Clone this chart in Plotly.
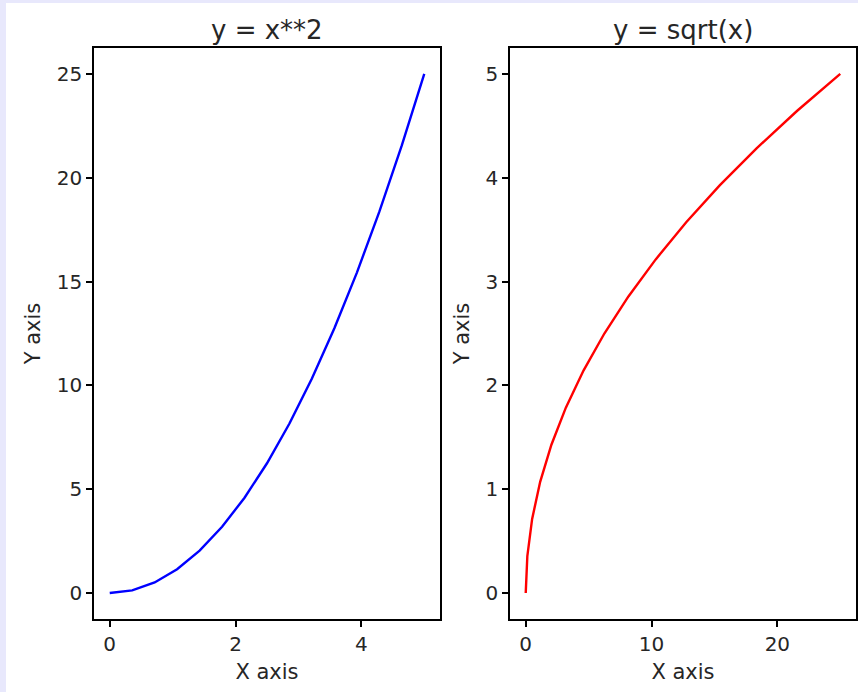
import plotly.graph_objects as go

# Sample points of the two curves
x_vals = [0.0, 0.357, 0.714, 1.071, 1.429, 1.786, 2.143, 2.5,
          2.857, 3.214, 3.571, 3.929, 4.286, 4.643, 5.0]
x_squared = [0.0, 0.128, 0.510, 1.148, 2.041, 3.189, 4.592, 6.25,
             8.163, 10.332, 12.755, 15.434, 18.367, 21.556, 25.0]

# Right panel: sqrt curve sampled on the squared grid
sqrt_x = [0.0, 0.128, 0.510, 1.148, 2.041, 3.189, 4.592, 6.25,
          8.163, 10.332, 12.755, 15.434, 18.367, 21.556, 25.0]
sqrt_y = [0.0, 0.357, 0.714, 1.071, 1.429, 1.786, 2.143, 2.5,
          2.857, 3.214, 3.571, 3.929, 4.286, 4.643, 5.0]

titles = ["y = x**2", "y = sqrt(x)"]
left_xticks = [0, 2, 4]
left_yticks = [0, 5, 10, 15, 20, 25]
right_xticks = [0, 10, 20]
right_yticks = [0, 1, 2, 3, 4, 5]

W, H = 858, 692
FONT = "DejaVu Sans"
TICK_SIZE = 20
LABEL_SIZE = 21
TITLE_SIZE = 26


def px_x(p):
    return p / W


def px_y(p):
    return (H - p) / H


fig = go.Figure()
fig.add_trace(go.Scatter(x=x_vals, y=x_squared, mode="lines",
                         line=dict(color="#0000ff", width=2.4),
                         xaxis="x", yaxis="y", showlegend=False))
fig.add_trace(go.Scatter(x=sqrt_x, y=sqrt_y, mode="lines",
                         line=dict(color="#ff0000", width=2.4),
                         xaxis="x2", yaxis="y2", showlegend=False))

axis_common = dict(
    showline=True, mirror=True, linecolor="#000000", linewidth=1.6,
    ticks="outside", ticklen=6, tickwidth=1.6, tickcolor="#000000",
    showgrid=False, zeroline=False,
    tickfont=dict(family=FONT, size=TICK_SIZE, color="#262626"),
    title_font=dict(family=FONT, size=LABEL_SIZE, color="#262626"),
)

y_dom = [px_y(619), px_y(48)]

fig.update_layout(
    width=W, height=H,
    margin=dict(l=0, r=0, t=0, b=0),
    paper_bgcolor="#e8e8fc",
    plot_bgcolor="#ffffff",
    xaxis=dict(domain=[px_x(94), px_x(440)], range=[-0.25, 5.25],
               tickvals=left_xticks, anchor="y",
               title=dict(text="X axis", standoff=10), **axis_common),
    yaxis=dict(domain=y_dom, range=[-1.25, 26.25],
               tickvals=left_yticks, anchor="x",
               title=dict(text="Y axis", standoff=10), **axis_common),
    xaxis2=dict(domain=[px_x(510), px_x(856)], range=[-1.25, 26.25],
                tickvals=right_xticks, anchor="y2",
                title=dict(text="X axis", standoff=10), **axis_common),
    yaxis2=dict(domain=y_dom, range=[-0.25, 5.25],
                tickvals=right_yticks, anchor="x2",
                title=dict(text="Y axis", standoff=10), **axis_common),
    shapes=[dict(type="rect", xref="paper", yref="paper",
                 x0=px_x(6), x1=1.0, y0=0.0, y1=px_y(3),
                 fillcolor="#ffffff", line=dict(width=0), layer="below")],
    annotations=[
        dict(text=titles[0], xref="paper", yref="paper",
             x=(px_x(94) + px_x(440)) / 2, y=px_y(30),
             xanchor="center", yanchor="middle", showarrow=False,
             font=dict(family=FONT, size=TITLE_SIZE, color="#262626")),
        dict(text=titles[1], xref="paper", yref="paper",
             x=(px_x(510) + px_x(856)) / 2, y=px_y(30),
             xanchor="center", yanchor="middle", showarrow=False,
             font=dict(family=FONT, size=TITLE_SIZE, color="#262626")),
    ],
)

fig.write_html("out.html")
